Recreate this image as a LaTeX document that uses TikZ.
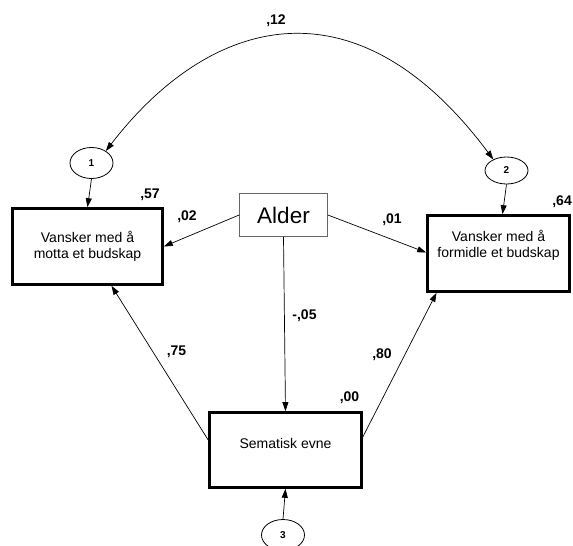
\documentclass[tikz,border=0pt]{standalone}
\usepackage{fontspec}
\setmainfont{Liberation Sans}
\usetikzlibrary{arrows.meta,shapes.geometric}

\begin{document}
\begin{tikzpicture}[x=1pt, y=-1pt, >={Triangle[length=9pt,width=6pt]},
	box/.style={draw, line width=2.6pt, align=center, inner sep=0pt, font=\fontsize{14}{16}\selectfont},
	err/.style={draw, ellipse, line width=0.8pt, inner sep=0pt, font=\fontsize{10}{11}\selectfont\bfseries},
	coef/.style={inner sep=0pt, font=\fontsize{14}{16}\selectfont\bfseries},
	effect/.style={->, line width=0.7pt}]
	\useasboundingbox (0,0) rectangle (573,546);
	% observed variables
	\node[box, minimum width=150pt, minimum height=76pt] (motta) at (87.5,246.5) {Vansker med å\\motta et budskap};
	\node[box, minimum width=142pt, minimum height=76pt, text depth=20pt] (formidle) at (498.5,253.5) {Vansker med å\\formidle et budskap};
	\node[box, minimum width=152pt, minimum height=75pt, text depth=13pt] (sematisk) at (285.5,450) {Sematisk evne};
	\node[draw=black!60, line width=0.7pt, minimum width=88pt, minimum height=43pt, inner sep=0pt, font=\fontsize{22.5}{24}\selectfont] (alder) at (283.5,215) {Alder};
	% residuals
	\node[err, minimum width=43pt, minimum height=31pt] (e1) at (91.5,163) {1};
	\node[err, minimum width=43pt, minimum height=27pt] (e2) at (506.5,170.5) {2};
	\node[err, minimum width=43pt, minimum height=31pt] (e3) at (283,535) {3};
	% paths
	\draw[effect] (e1.south) -- (motta.north);
	\draw[effect] (e2.south) -- ([xshift=4pt]formidle.north);
	\draw[effect] (e3.north) -- (sematisk.south);
	\draw[effect] (alder.west) -- (motta.east);
	\draw[effect] (alder.east) -- ([yshift=1pt]formidle.west);
	\draw[effect] (alder.south) -- (sematisk.north);
	\draw[effect] ([yshift=10pt]sematisk.west) -- ([xshift=24pt]motta.south);
	\draw[effect] ([yshift=13pt]sematisk.east) -- ([xshift=-62pt]formidle.south);
	% covariance
	\draw[<->, line width=0.7pt] (e1.40) .. controls (209,17) and (355,-26) .. (e2.140);
	% coefficients
	\node[coef] (c12) at (276,21) {,12};
	\node[coef] (c57) at (150,195) {,57};
	\node[coef] (c02) at (187,217) {,02};
	\node[coef] (c01) at (392,220) {,01};
	\node[coef, anchor=east] (c64) at (572,202) {,64};
	\node[coef] (c05) at (304.5,316) {-,05};
	\node[coef] (c75) at (176.5,351.5) {,75};
	\node[coef] (c80) at (382,355) {,80};
	\node[coef] (c00) at (349.5,397.5) {,00};
\end{tikzpicture}
\end{document}
